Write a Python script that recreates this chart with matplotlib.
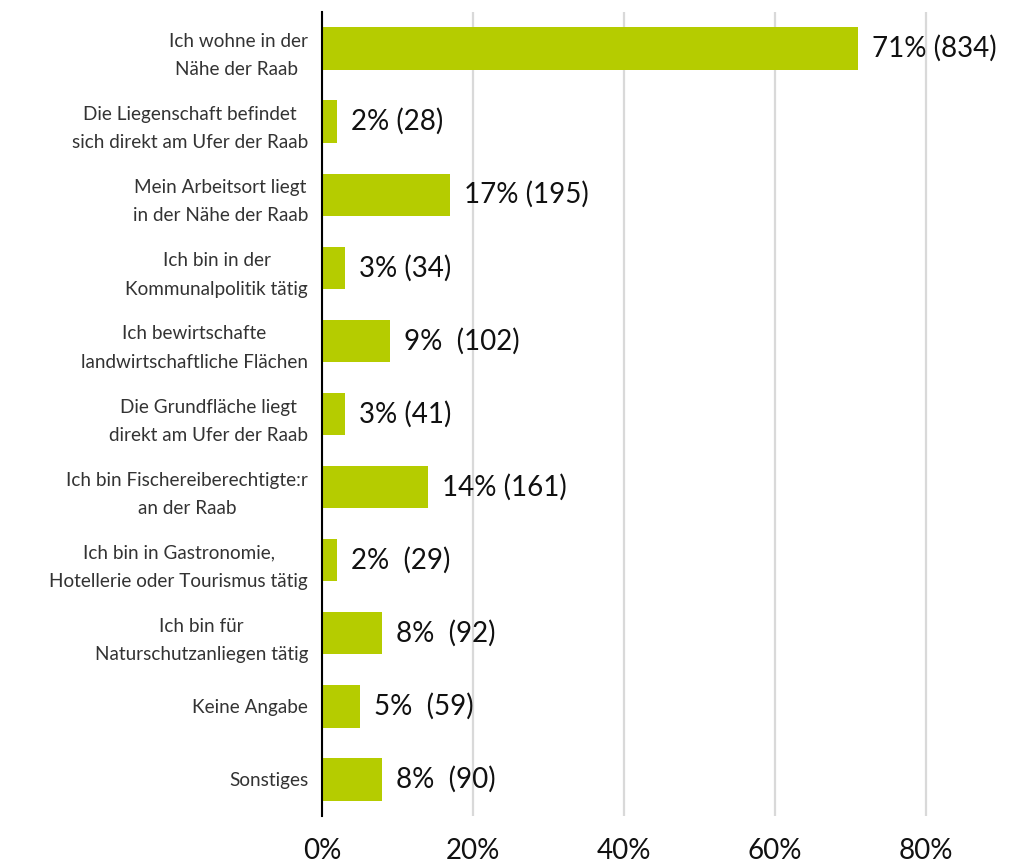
import numpy as np
import matplotlib
matplotlib.use("Agg")
import matplotlib.pyplot as plt

plt.rcParams['font.family'] = ['Lato', 'DejaVu Sans']

categories = [
    "Ich wohne in der\nNähe der Raab ",
    "Die Liegenschaft befindet\nsich direkt am Ufer der Raab",
    "Mein Arbeitsort liegt\nin der Nähe der Raab",
    "Ich bin in der\nKommunalpolitik tätig",
    "Ich bewirtschafte\nlandwirtschaftliche Flächen",
    "Die Grundfläche liegt\ndirekt am Ufer der Raab",
    "Ich bin Fischereiberechtigte:r\nan der Raab",
    "Ich bin in Gastronomie,\nHotellerie oder Tourismus tätig",
    "Ich bin für\nNaturschutzanliegen tätig",
    "Keine Angabe",
    "Sonstiges",
]
percent = [71, 2, 17, 3, 9, 3, 14, 2, 8, 5, 8]
counts = [834, 28, 195, 34, 102, 41, 161, 29, 92, 59, 90]
# gap between percent and count as in the original labels
gaps = [" ", " ", " ", " ", "  ", " ", " ", "  ", "  ", "  ", "  "]

bar_color = '#B5CC00'

fig = plt.figure(figsize=(10.10, 8.66), dpi=100, facecolor='white')
ax = fig.add_axes([322 / 1010, 1 - 816 / 866, (1001 - 322) / 1010, (816 - 12) / 866])

y = np.arange(len(categories))
ax.barh(y, percent, height=0.58, color=bar_color, zorder=3)

for yi, p, c, g in zip(y, percent, counts, gaps):
    ax.annotate(f"{p}%{g}({c})", xy=(p, yi), xytext=(10, 0),
                textcoords='offset points', va='center', ha='left',
                fontsize=20, color='#111111', annotation_clip=False, zorder=4)

ax.set_ylim(-0.5, len(categories) - 0.5)
ax.invert_yaxis()
ax.set_xlim(0, 90)
ax.set_xticks([0, 20, 40, 60, 80])
ax.set_xticklabels(["0%", "20%", "40%", "60%", "80%"], fontsize=20, color='#111111')
ax.set_yticks(y)
ax.set_yticklabels(categories, fontsize=13.6, color='#333333',
                   multialignment='center', linespacing=1.8)

ax.tick_params(axis='y', length=0, pad=10)
ax.tick_params(axis='x', length=0, pad=16)

ax.grid(axis='x', color='#D9D9D9', linewidth=1.6, zorder=0)
ax.set_axisbelow(True)
for side in ['top', 'right', 'bottom']:
    ax.spines[side].set_visible(False)
ax.spines['left'].set_color('black')
ax.spines['left'].set_linewidth(1.5)
ax.spines['left'].set_zorder(5)

fig.savefig('out.png', dpi=100)
